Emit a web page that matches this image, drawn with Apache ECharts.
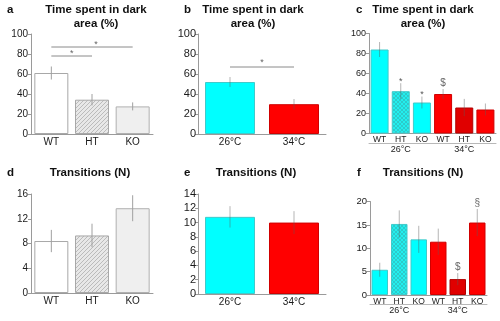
<!DOCTYPE html>
<html>
<head>
<meta charset="utf-8">
<script src="https://cdn.jsdelivr.net/npm/echarts@6/dist/echarts.min.js"></script>
<style>
html,body{margin:0;padding:0;background:#fff;}
#chart{width:500px;height:321px;}
</style>
</head>
<body>
<div id="chart"></div>
<script>
// ---------- DATA ----------
var genotypes = ['WT', 'HT', 'KO'];
var temps = ['26°C', '34°C'];
var groupCats = ['WT', 'HT', 'KO', 'WT', 'HT', 'KO'];

var timeA = [61, 34.3, 27.6];
var timeAErr = [6.5, 5.7, 4];
var timeB = [52, 29.8];
var timeBErr = [5, 5.2];
var timeC = [84, 42.3, 31, 39.5, 26, 24];
var timeCErr = [7.5, 8, 6, 5, 8.6, 6];

var transA = [8.4, 9.3, 13.7];
var transAErr = [1.8, 1.9, 2.1];
var transB = [10.8, 10.0];
var transBErr = [1.5, 1.6];
var transC = [5.4, 15.2, 11.9, 11.4, 3.4, 15.5];
var transCErr = [1.5, 2.9, 2.9, 2.8, 1.3, 2.9];

var annC = ['', '*', '*', '$', '', ''];
var annF = ['', '', '', '', '$', '§'];

// significance brackets: [fromIndex, toIndex, value]
var sigA = [[0, 2, 87], [0, 1, 78]];
var sigB = [[0, 1, 67]];

// ---------- STYLES ----------
function makePattern(bg, line, cross) {
  var c = document.createElement('canvas');
  c.width = 4; c.height = 4;
  var ctx = c.getContext('2d');
  ctx.fillStyle = bg; ctx.fillRect(0, 0, 4, 4);
  ctx.strokeStyle = line; ctx.lineWidth = 0.7;
  ctx.beginPath();
  ctx.moveTo(0, 4); ctx.lineTo(4, 0);
  ctx.moveTo(-1, 1); ctx.lineTo(1, -1);
  ctx.moveTo(3, 5); ctx.lineTo(5, 3);
  if (cross) {
    ctx.moveTo(0, 0); ctx.lineTo(4, 4);
  }
  ctx.stroke();
  return c;
}
var greyHatch = {image: makePattern('#e8e8e8', '#a8a8a8', false), repeat: 'repeat'};
var cyanHatch = {image: makePattern('#22eeee', '#30bcbc', true), repeat: 'repeat'};

var CYAN = '#00ffff', CYAN_B = '#40caca';
var RED = '#ff0000', RED_B = '#d00000', RED_D = '#e00000';

var styleA = [
  {color: '#ffffff', borderColor: '#a8a8a8', borderWidth: 1},
  {color: greyHatch, borderColor: '#a8a8a8', borderWidth: 1},
  {color: '#efefef', borderColor: '#b0b0b0', borderWidth: 1}
];
var styleB = [
  {color: CYAN, borderColor: CYAN_B, borderWidth: 1},
  {color: RED, borderColor: RED_B, borderWidth: 1}
];
var styleC = [
  {color: CYAN, borderColor: CYAN_B, borderWidth: 1},
  {color: cyanHatch, borderColor: CYAN_B, borderWidth: 1},
  {color: CYAN, borderColor: CYAN_B, borderWidth: 1},
  {color: RED, borderColor: RED_B, borderWidth: 1},
  {color: RED_D, borderColor: '#b00000', borderWidth: 1},
  {color: RED, borderColor: RED_B, borderWidth: 1}
];

var FONT = '"Liberation Sans", Arial, sans-serif';
var TXT = '#1a1a1a';
var AXC = '#9a9a9a';

function items(vals, styles) {
  return vals.map(function (v, i) { return {value: v, itemStyle: styles[i]}; });
}
function errData(vals, errs) {
  return vals.map(function (v, i) { return [i, v - errs[i], v + errs[i]]; });
}

function errSeries(xi, yi, vals, errs, color, ann, annFont) {
  return {
    type: 'custom', xAxisIndex: xi, yAxisIndex: yi, silent: true, z: 5,
    data: errData(vals, errs),
    renderItem: function (params, api) {
      var i = api.value(0);
      var p1 = api.coord([i, api.value(1)]);
      var p2 = api.coord([i, api.value(2)]);
      var children = [{
        type: 'line',
        shape: {x1: p1[0], y1: p1[1], x2: p2[0], y2: p2[1]},
        style: {stroke: color, lineWidth: 1}
      }];
      if (ann && ann[params.dataIndex]) {
        var t = ann[params.dataIndex];
        var off = t === '*' ? 1.5 : 5.5;
        children.push({
          type: 'text',
          style: {
            text: t, x: p2[0], y: p2[1] - off,
            textAlign: 'center', textVerticalAlign: 'middle',
            fontSize: t === '*' ? 9 : annFont, fontFamily: FONT,
            fill: t === '*' ? '#555' : '#666'
          }
        });
      }
      return {type: 'group', children: children};
    }
  };
}

function sigSeries(xi, yi, sig, starOff) {
  return {
    type: 'custom', xAxisIndex: xi, yAxisIndex: yi, silent: true, z: 6,
    data: sig,
    renderItem: function (params, api) {
      var a = api.coord([api.value(0), api.value(2)]);
      var b = api.coord([api.value(1), api.value(2)]);
      return {
        type: 'group', children: [
          {type: 'line', shape: {x1: a[0], y1: a[1], x2: b[0], y2: b[1]},
           style: {stroke: '#8a8a8a', lineWidth: 1}},
          {type: 'text', style: {text: '*', x: (a[0] + b[0]) / 2 + (params.dataIndex === 0 && sig.length > 1 ? 4 : 0), y: a[1] - starOff,
           textAlign: 'center', textVerticalAlign: 'middle', fontSize: 9, fontFamily: FONT, fill: '#666'}}
        ]
      };
    }
  };
}

function yAx(gi, max, interval, fs, margin) {
  return {
    type: 'value', gridIndex: gi, min: 0, max: max, interval: interval,
    splitLine: {show: false},
    axisLine: {show: true, lineStyle: {color: AXC, width: 1}},
    axisTick: {show: true, length: 3, lineStyle: {color: AXC}},
    axisLabel: {fontSize: fs, color: TXT, fontFamily: FONT, margin: margin}
  };
}
function xAx(gi, cats, fs, margin) {
  return {
    type: 'category', gridIndex: gi, data: cats,
    axisLine: {show: true, lineStyle: {color: AXC, width: 1}},
    axisTick: {show: false},
    axisLabel: {fontSize: fs, color: TXT, fontFamily: FONT, margin: margin, interval: 0}
  };
}
function groupAx(gi, offset, fs) {
  var ax = xAx(gi, temps, fs, 2);
  ax.position = 'bottom';
  ax.offset = offset;
  ax.axisLine.lineStyle.color = '#b8b8b8';
  return ax;
}

function titleBlock(letter, lx, text, cx, top) {
  return [
    {text: letter, left: lx, top: top, padding: 0,
     textStyle: {fontSize: 11.5, fontWeight: 'bold', fontFamily: FONT, color: '#111', lineHeight: 14}},
    {text: text, left: cx, top: top, padding: 0, textAlign: 'center',
     textStyle: {fontSize: 11.5, fontWeight: 'bold', fontFamily: FONT, color: '#111', lineHeight: 14}}
  ];
}

var chart = echarts.init(document.getElementById('chart'), null, {renderer: 'canvas'});

var option = {
  animation: false,
  backgroundColor: '#ffffff',
  title: [].concat(
    titleBlock('a', 7, 'Time spent in dark\narea (%)', 96, 3),
    titleBlock('b', 184, 'Time spent in dark\narea (%)', 253, 3),
    titleBlock('c', 356, 'Time spent in dark\narea (%)', 423, 3),
    titleBlock('d', 7, 'Transitions (N)', 90, 166),
    titleBlock('e', 184, 'Transitions (N)', 256, 166),
    titleBlock('f', 357, 'Transitions (N)', 423, 166)
  ),
  grid: [
    {left: 31, top: 34, width: 122, height: 100},
    {left: 198, top: 34, width: 128, height: 100},
    {left: 369, top: 33.5, width: 127, height: 100},
    {left: 31, top: 194, width: 122, height: 99},
    {left: 198, top: 194, width: 128, height: 100},
    {left: 370, top: 201.5, width: 117, height: 93.5}
  ],
  xAxis: [
    xAx(0, genotypes, 10, 3),
    xAx(1, temps, 10, 3),
    xAx(2, groupCats, 8.5, 2),
    groupAx(2, 10, 9),
    xAx(3, genotypes, 10, 3),
    xAx(4, temps, 10, 3),
    xAx(5, groupCats, 8.5, 2),
    groupAx(5, 9, 9)
  ],
  yAxis: [
    yAx(0, 100, 20, 10, 3),
    yAx(1, 100, 20, 11, 2),
    yAx(2, 100, 20, 9, 3),
    yAx(3, 16, 4, 10, 3),
    yAx(4, 14, 2, 11, 2),
    yAx(5, 20, 5, 9.5, 3)
  ],
  series: [
    {type: 'bar', xAxisIndex: 0, yAxisIndex: 0, barWidth: 34, data: items(timeA, styleA)},
    errSeries(0, 0, timeA, timeAErr, '#a0a0a0'),
    sigSeries(0, 0, sigA, 2.3),
    {type: 'bar', xAxisIndex: 1, yAxisIndex: 1, barWidth: 50, data: items(timeB, styleB)},
    errSeries(1, 1, timeB, timeBErr, 'rgba(90,90,90,0.45)'),
    sigSeries(1, 1, sigB, 4),
    {type: 'bar', xAxisIndex: 2, yAxisIndex: 2, barWidth: 18, data: items(timeC, styleC)},
    errSeries(2, 2, timeC, timeCErr, 'rgba(90,90,90,0.45)', annC, 10),
    {type: 'bar', xAxisIndex: 4, yAxisIndex: 3, barWidth: 34, data: items(transA, styleA)},
    errSeries(4, 3, transA, transAErr, '#a0a0a0'),
    {type: 'bar', xAxisIndex: 5, yAxisIndex: 4, barWidth: 50, data: items(transB, styleB)},
    errSeries(5, 4, transB, transBErr, 'rgba(90,90,90,0.45)'),
    {type: 'bar', xAxisIndex: 6, yAxisIndex: 5, barWidth: 16.5, data: items(transC, styleC)},
    errSeries(6, 5, transC, transCErr, 'rgba(90,90,90,0.45)', annF, 10)
  ]
};
chart.setOption(option);
</script>
</body>
</html>
